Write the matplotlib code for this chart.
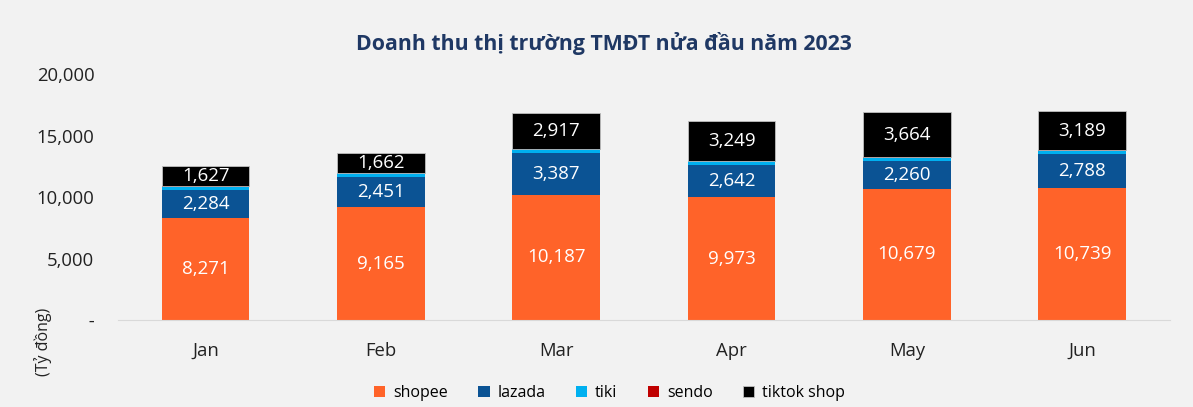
import numpy as np
import matplotlib.pyplot as plt
from matplotlib.ticker import FuncFormatter

plt.rcParams['font.family'] = ['Open Sans', 'DejaVu Sans']

# data (ty dong)
months = ['Jan', 'Feb', 'Mar', 'Apr', 'May', 'Jun']
shopee = [8271, 9165, 10187, 9973, 10679, 10739]
lazada = [2284, 2451, 3387, 2642, 2260, 2788]
tiki = [300, 330, 310, 290, 270, 250]
sendo = [10, 10, 10, 10, 10, 10]
tiktok = [1627, 1662, 2917, 3249, 3664, 3189]

series = [('shopee', shopee, '#ff6329'), ('lazada', lazada, '#0b5394'),
          ('tiki', tiki, '#00b0f0'), ('sendo', sendo, '#c00000'),
          ('tiktok shop', tiktok, '#000000')]
labelled = ['shopee', 'lazada', 'tiktok shop']

bg = '#f2f2f2'
fig = plt.figure(figsize=(11.93, 4.07), dpi=100, facecolor=bg)
ax = fig.add_axes([0.0989, 0.2138, 0.8818, 0.6042], facecolor=bg)

x = np.arange(len(months))
bottom = np.zeros(len(months))
for name, vals, col in series:
    vals = np.array(vals)
    if name == 'tiktok shop':
        ax.bar(x, vals, 0.5, bottom=bottom, color=col, label=name,
               edgecolor='#bfbfbf', linewidth=0.6)
    else:
        ax.bar(x, vals, 0.5, bottom=bottom, color=col, label=name, linewidth=0)
    if name in labelled:
        for xi, b, v in zip(x, bottom, vals):
            ax.text(xi, b + v / 2, f'{v:,}', ha='center', va='center',
                    color='white', fontsize=13.5)
    bottom += vals

ax.set_xlim(-0.5, 5.5)
ax.set_ylim(0, 20000)
ax.set_yticks([0, 5000, 10000, 15000, 20000])
ax.yaxis.set_major_formatter(FuncFormatter(lambda v, p: ' -' if v == 0 else f'{v:,.0f}'))
ax.set_xticks(x)
ax.set_xticklabels(months)
ax.tick_params(axis='both', length=0, labelsize=13.3, colors='#222222')
ax.tick_params(axis='x', pad=16)
ax.tick_params(axis='y', pad=17)
for s in ['top', 'right', 'left']:
    ax.spines[s].set_visible(False)
ax.spines['bottom'].set_color('#d9d9d9')

fig.text(0.506, 0.894, 'Doanh thu thị trường TMĐT nửa đầu năm 2023',
         ha='center', va='center', fontsize=15.3, fontweight='bold', color='#1f3864')
fig.text(0.036, 0.16, '(Tỷ đồng)', rotation=90, ha='center', va='center',
         fontsize=11.5, color='#222222')

fig.legend(loc='center', bbox_to_anchor=(0.511, 0.035), ncol=5, frameon=False,
           fontsize=11.5, handlelength=0.7, handleheight=0.7, columnspacing=1.9,
           handletextpad=0.5)

fig.savefig('out.png', dpi=100, facecolor=bg)
